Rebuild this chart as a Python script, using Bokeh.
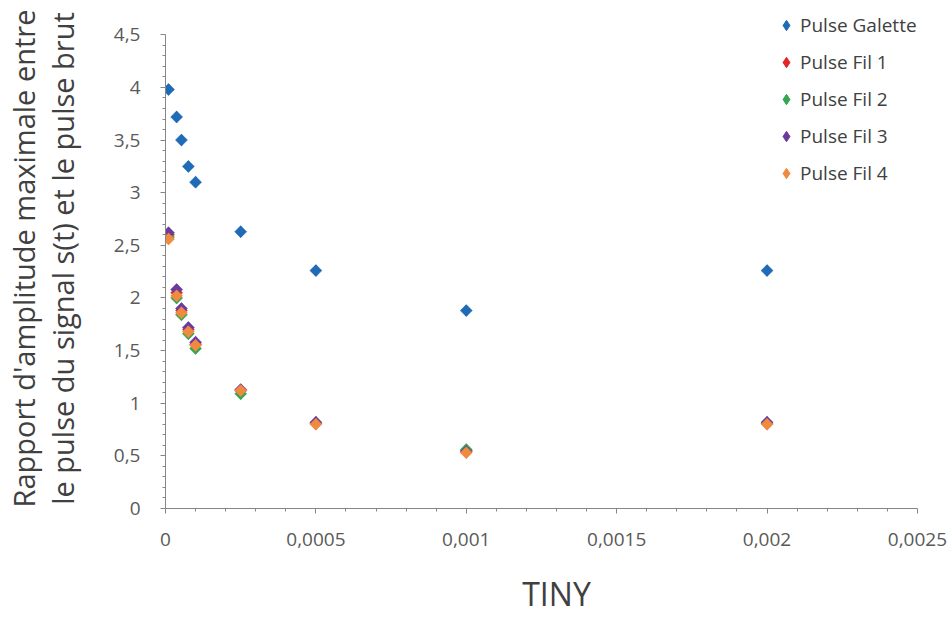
import math
from bokeh.plotting import figure
from bokeh.models import (Range1d, FixedTicker, CustomJSTickFormatter, Legend, LegendItem)
from bokeh.embed import file_html
from bokeh.resources import INLINE

# ---- data ----
tiny = [0.00001, 0.000037, 0.000053, 0.000076, 0.0001, 0.00025, 0.0005, 0.001, 0.002]
galette = [3.98, 3.72, 3.50, 3.25, 3.10, 2.63, 2.26, 1.88, 2.26]
fil1 = [2.60, 2.05, 1.88, 1.70, 1.56, 1.12, 0.81, 0.55, 0.81]
fil2 = [2.58, 2.00, 1.84, 1.66, 1.52, 1.09, 0.81, 0.56, 0.81]
fil3 = [2.62, 2.08, 1.90, 1.72, 1.58, 1.13, 0.82, 0.54, 0.82]
fil4 = [2.56, 2.02, 1.86, 1.68, 1.55, 1.12, 0.80, 0.53, 0.80]

series_names = ["Pulse Galette", "Pulse Fil 1", "Pulse Fil 2", "Pulse Fil 3", "Pulse Fil 4"]
series_values = [galette, fil1, fil2, fil3, fil4]
series_colors = ["#1F6BB5", "#E3242B", "#33A652", "#6B3A9E", "#F08A3E"]

x_ticks = [0, 0.0005, 0.001, 0.0015, 0.002, 0.0025]
y_ticks = [0, 0.5, 1, 1.5, 2, 2.5, 3, 3.5, 4, 4.5]
x_axis_span = (0, 0.0025)
y_axis_span = (0, 4.5)

FONT = "Open Sans"

# ranges reach a little past the axes so that the legend (top right) sits inside the frame
p = figure(width=952, height=617, output_backend="svg", toolbar_location=None,
           x_range=Range1d(0, 0.0026), y_range=Range1d(0, 4.75),
           min_border_left=165, min_border_right=5, min_border_top=8, min_border_bottom=109)
p.outline_line_color = None
p.xgrid.grid_line_color = None
p.ygrid.grid_line_color = None

fmt = CustomJSTickFormatter(code="return tick.toString().replace('.', ',');")

x_minor = [i * 0.0001 for i in range(26) if i % 5 != 0]
y_minor = [i * 0.1 for i in range(46) if i % 5 != 0]
p.xaxis.ticker = FixedTicker(ticks=x_ticks, minor_ticks=x_minor)
p.yaxis.ticker = FixedTicker(ticks=y_ticks, minor_ticks=y_minor)
p.xaxis.bounds = x_axis_span
p.yaxis.bounds = y_axis_span
p.xaxis.formatter = fmt
p.yaxis.formatter = fmt

for ax in (p.xaxis, p.yaxis):
    ax.axis_line_color = "#868686"
    ax.major_tick_line_color = "#868686"
    ax.minor_tick_line_color = "#868686"
    ax.major_tick_in = 0
    ax.major_tick_out = 5
    ax.minor_tick_in = 0
    ax.minor_tick_out = 3
    ax.major_label_text_font = FONT
    ax.major_label_text_font_size = "19px"
    ax.major_label_text_color = "#595959"
    ax.axis_label_text_font = FONT
    ax.axis_label_text_font_style = "normal"
    ax.axis_label_text_color = "#404040"

p.xaxis.axis_label = "TINY"
p.xaxis.axis_label_text_font_size = "32px"
p.xaxis.axis_label_text_line_height = 0.8
p.xaxis.major_label_standoff = 19
p.xaxis.axis_label_standoff = 23

p.yaxis.axis_label = "Rapport d'amplitude maximale entre\nle pulse du signal s(t) et le pulse brut"
p.yaxis.axis_label_text_font_size = "29px"
p.yaxis.axis_label_text_line_height = 1.0
p.yaxis.major_label_standoff = 20
p.yaxis.axis_label_standoff = 29

items = []
for name, vals, col in zip(series_names, series_values, series_colors):
    # diamond (used as the legend swatch), hidden under the square-diamond marker
    sw = p.scatter(tiny, vals, marker="diamond", size=11, fill_color=col, line_color=col)
    p.scatter(tiny, vals, marker="square", angle=math.pi / 4, size=8.5,
              fill_color=col, line_color=col, line_width=0.5)
    items.append(LegendItem(label=name, renderers=[sw]))

legend = Legend(items=items, location=(608, 322))
legend.background_fill_alpha = 0
legend.border_line_color = None
legend.label_text_font = FONT
legend.label_text_font_size = "19px"
legend.label_text_color = "#404040"
legend.glyph_width = 26
legend.glyph_height = 26
legend.label_height = 26
legend.spacing = 11
legend.padding = 2
legend.margin = 0
legend.label_standoff = 1
p.add_layout(legend, "center")

open("out.html", "w").write(file_html(p, INLINE))
